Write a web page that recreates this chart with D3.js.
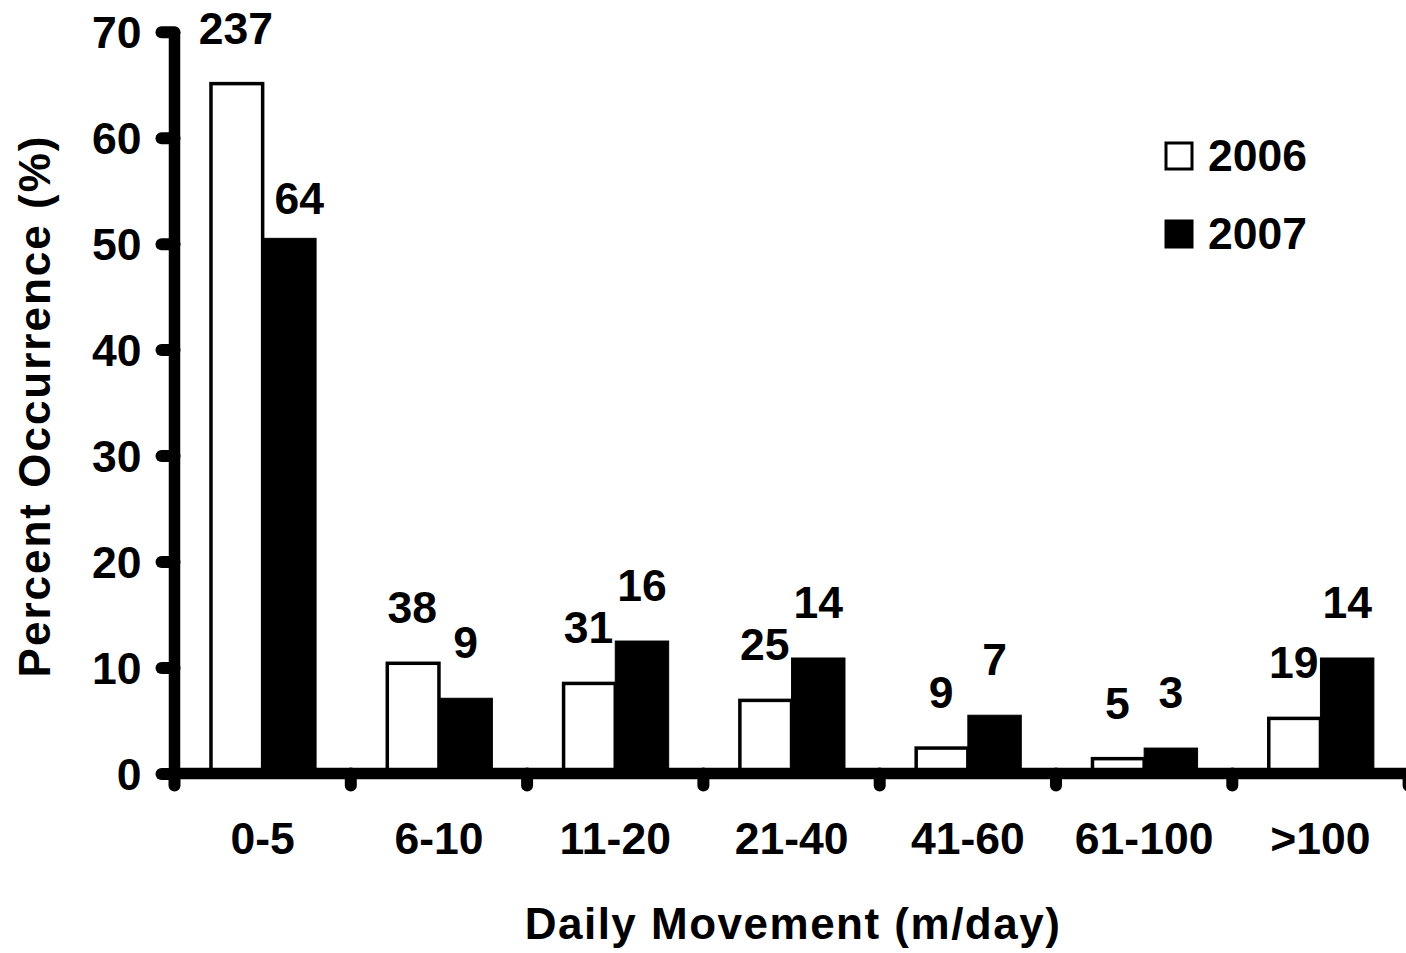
<!DOCTYPE html>
<html>
<head>
<meta charset="utf-8">
<script src="https://cdn.jsdelivr.net/npm/d3@7"></script>
<style>
  html, body { margin: 0; padding: 0; background: #fff; }
  svg { display: block; font-family: "Liberation Sans", Arial, sans-serif; font-weight: bold; }
</style>
</head>
<body>
<svg id="chart" width="1406" height="953"></svg>
<script>
// ---- data ----
const categories = ["0-5", "6-10", "11-20", "21-40", "41-60", "61-100", ">100"];
const series = ["2006", "2007"];
const pct2006 = [65.1, 10.4, 8.5, 6.9, 2.4, 1.4, 5.2];
const pct2007 = [50.5, 7.1, 12.5, 10.9, 5.5, 2.4, 10.9];
const counts2006 = [237, 38, 31, 25, 9, 5, 19];
const counts2007 = [64, 9, 16, 14, 7, 3, 14];
const yTicks = [0, 10, 20, 30, 40, 50, 60, 70];
const xTitle = "Daily Movement (m/day)";
const yTitle = "Percent Occurrence (%)";

// ---- layout ----
const x0Left = 174.5, step = 176.3;
const FS = 44.5;
const svg = d3.select("#chart");

const x0 = d3.scaleBand().domain(categories)
  .range([x0Left, x0Left + step * categories.length]).padding(0);
const x1 = d3.scaleBand().domain(series)
  .range([0, x0.bandwidth()]).paddingInner(0).paddingOuter(0.65);
const y = d3.scaleLinear().domain([0, 70]).range([773.5, 31.7]);

const fills = { "2006": "#fff", "2007": "#000" };
const values = { "2006": pct2006, "2007": pct2007 };
const counts = { "2006": counts2006, "2007": counts2007 };
// label nudges (layout only)
const labelDx = { "2006": [0,0,0,0,0,0,0], "2007": [10,0,0,0,0,0,0] };
const labelDy = { "2006": [0,0,0,0,0,0,0], "2007": [16,0,0,0,0,0,0] };

const rows = [];
categories.forEach((c, i) => series.forEach(s => rows.push({ c, i, s, v: values[s][i], n: counts[s][i] })));

// bars
svg.append("g").selectAll("rect").data(rows).join("rect")
  .attr("x", d => x0(d.c) + x1(d.s) + (d.s === "2006" ? 1.75 : 0))
  .attr("width", d => x1.bandwidth() - (d.s === "2006" ? 1.75 : 0))
  .attr("y", d => y(d.v))
  .attr("height", d => y(0) - y(d.v))
  .attr("fill", d => fills[d.s])
  .attr("stroke", "#000")
  .attr("stroke-width", d => d.s === "2006" ? 3.5 : 1);

// value labels
svg.append("g").selectAll("text").data(rows).join("text")
  .attr("x", d => x0(d.c) + x1(d.s) + x1.bandwidth() / 2 + labelDx[d.s][d.i])
  .attr("y", d => y(d.v) - 40 + labelDy[d.s][d.i])
  .attr("text-anchor", "middle")
  .attr("font-size", FS)
  .text(d => d.n);

// y axis
const yAxis = d3.axisLeft(y).tickValues(yTicks).tickSize(0).tickPadding(0);
const gy = svg.append("g").attr("transform", `translate(${x0Left},0)`).call(yAxis);
gy.select(".domain").remove();
gy.selectAll(".tick text").attr("font-size", FS).attr("font-family", "Liberation Sans, Arial, sans-serif")
  .attr("font-weight", "bold").attr("fill", "#000").attr("x", -33).attr("dy", "0.36em");
gy.selectAll(".tick").append("line")
  .attr("x1", -13).attr("x2", 0).attr("stroke", "#000").attr("stroke-width", 12).attr("stroke-linecap", "round");
svg.append("line").attr("x1", x0Left).attr("x2", x0Left).attr("y1", y(0)).attr("y2", y(70))
  .attr("stroke", "#000").attr("stroke-width", 11.5);

// x axis
const xTickPos = d3.range(categories.length + 1).map(k => x0Left + k * step);
svg.append("g").selectAll("line").data(xTickPos).join("line")
  .attr("x1", d => d).attr("x2", d => d).attr("y1", y(0)).attr("y2", y(0) + 12)
  .attr("stroke", "#000").attr("stroke-width", 12).attr("stroke-linecap", "round");
svg.append("line").attr("x1", x0Left).attr("x2", x0Left + step * categories.length)
  .attr("y1", y(0)).attr("y2", y(0)).attr("stroke", "#000").attr("stroke-width", 11.5);

const xAxis = d3.axisBottom(x0).tickSize(0).tickPadding(0);
const gx = svg.append("g").attr("transform", `translate(0,${y(0)})`).call(xAxis);
gx.select(".domain").remove();
gx.selectAll(".tick text").attr("font-size", FS).attr("font-family", "Liberation Sans, Arial, sans-serif")
  .attr("font-weight", "bold").attr("fill", "#000").attr("dy", 0).attr("y", 80);

// axis titles
svg.append("text").attr("x", 793).attr("y", 939).attr("text-anchor", "middle")
  .attr("font-size", 44).attr("letter-spacing", 1.5).text(xTitle);
svg.append("text").attr("transform", "translate(50,406) rotate(-90)").attr("text-anchor", "middle")
  .attr("font-size", 44).attr("letter-spacing", 2).text(yTitle);

// legend
const lg = svg.append("g");
series.forEach((s, k) => {
  const cy = 156 + k * 78;
  lg.append("rect").attr("x", 1166).attr("y", cy - 13).attr("width", 26).attr("height", 26)
    .attr("fill", fills[s]).attr("stroke", "#000").attr("stroke-width", 3);
  lg.append("text").attr("x", 1208).attr("y", cy + 15).attr("font-size", FS).text(s);
});
</script>
</body>
</html>
